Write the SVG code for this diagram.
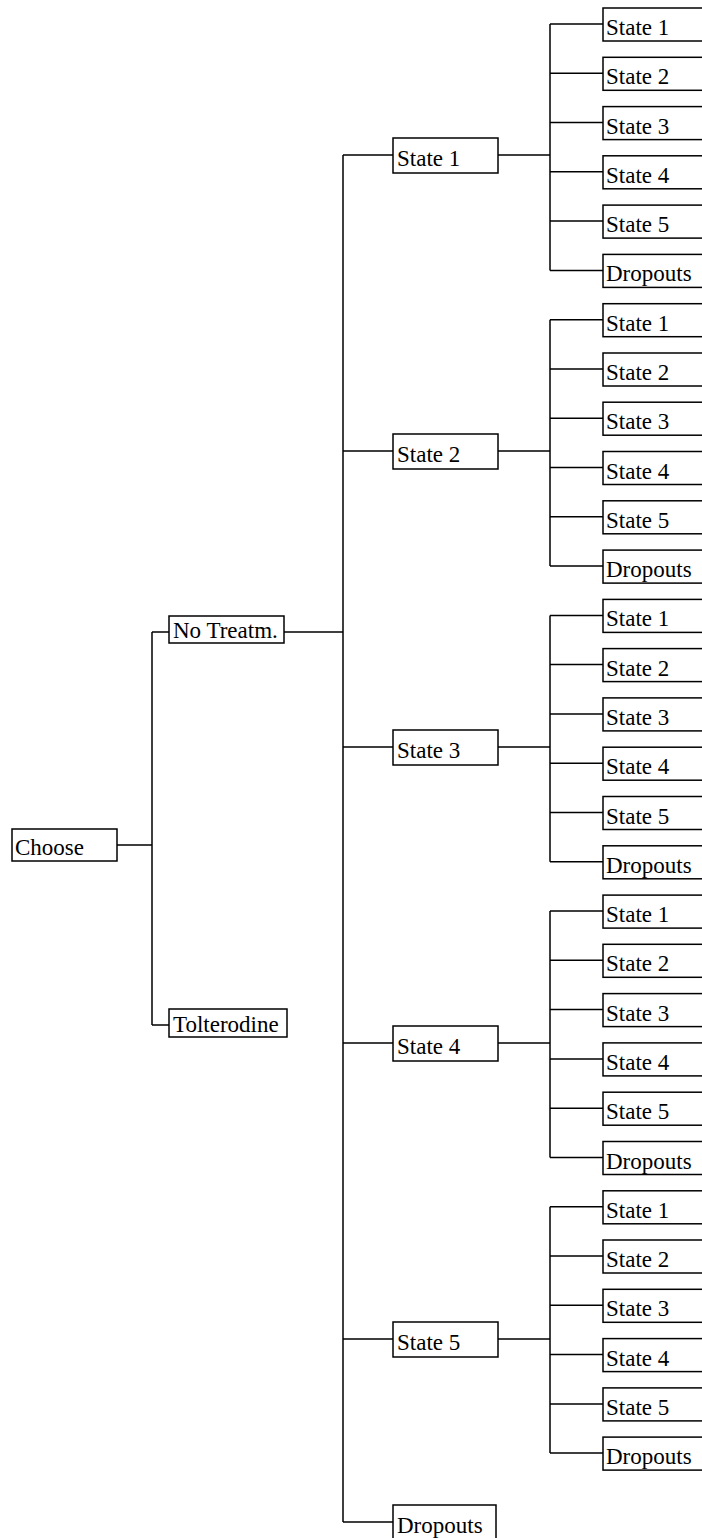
<svg xmlns="http://www.w3.org/2000/svg" width="702" height="1538" viewBox="0 0 702 1538">
<style>
.b{fill:#fff;stroke:#000;stroke-width:1.5}
.t{font-family:"Liberation Serif","Times New Roman",serif;font-size:23px;fill:#000}
.c{stroke:#000;stroke-width:1.5;fill:none}
</style>
<rect width="702" height="1538" fill="#fff"/>
<g id="connectors" class="c">
<path d="M117 845H152M152 632V1025M152 632H169M152 1025H169"/>
<path d="M284 632H343M343 155V1522"/>
<path d="M343 155H393M343 451H393M343 747H393M343 1043H393M343 1339H393M343 1522H393"/>
<path d="M498 155H550M498 451H550M498 747H550M498 1043H550M498 1339H550"/>
<path d="M550 24V270.4M550 319.7V566.1M550 615.4V861.8M550 911.1V1157.5M550 1206.8V1453.1"/>
<path d="M550 24H603M550 73.3H603M550 122.6H603M550 171.8H603M550 221.1H603M550 270.4H603"/>
<path d="M550 319.7H603M550 369H603M550 418.2H603M550 467.5H603M550 516.8H603M550 566.1H603"/>
<path d="M550 615.4H603M550 664.6H603M550 713.9H603M550 763.2H603M550 812.5H603M550 861.8H603"/>
<path d="M550 911.1H603M550 960.3H603M550 1009.6H603M550 1058.9H603M550 1108.2H603M550 1157.5H603"/>
<path d="M550 1206.8H603M550 1256H603M550 1305.3H603M550 1354.6H603M550 1403.9H603M550 1453.1H603"/>
</g>
<g id="choose"><rect class="b" x="12" y="829" width="105" height="32"/><text class="t" x="15" y="855">Choose</text></g>
<g id="notreat"><rect class="b" x="169" y="616" width="115" height="27"/><text class="t" x="173" y="638">No Treatm.</text></g>
<g id="tolterodine"><rect class="b" x="169" y="1009" width="118" height="28"/><text class="t" x="173" y="1032">Tolterodine</text></g>
<g id="s1"><rect class="b" x="393" y="138" width="105" height="35"/><text class="t" x="397" y="166">State 1</text></g>
<g id="s2"><rect class="b" x="393" y="434" width="105" height="35"/><text class="t" x="397" y="462">State 2</text></g>
<g id="s3"><rect class="b" x="393" y="730" width="105" height="35"/><text class="t" x="397" y="758">State 3</text></g>
<g id="s4"><rect class="b" x="393" y="1026" width="105" height="35"/><text class="t" x="397" y="1054">State 4</text></g>
<g id="s5"><rect class="b" x="393" y="1322" width="105" height="35"/><text class="t" x="397" y="1350">State 5</text></g>
<g id="sd"><rect class="b" x="393" y="1505" width="103" height="40"/><text class="t" x="397" y="1533">Dropouts</text></g>
<g id="l1-1"><rect class="b" x="603" y="8" width="110" height="33"/><text class="t" x="606" y="35">State 1</text></g>
<g id="l1-2"><rect class="b" x="603" y="57.3" width="110" height="33"/><text class="t" x="606" y="84.3">State 2</text></g>
<g id="l1-3"><rect class="b" x="603" y="106.6" width="110" height="33"/><text class="t" x="606" y="133.6">State 3</text></g>
<g id="l1-4"><rect class="b" x="603" y="155.8" width="110" height="33"/><text class="t" x="606" y="182.8">State 4</text></g>
<g id="l1-5"><rect class="b" x="603" y="205.1" width="110" height="33"/><text class="t" x="606" y="232.1">State 5</text></g>
<g id="l1-d"><rect class="b" x="603" y="254.4" width="110" height="33"/><text class="t" x="606" y="281.4">Dropouts</text></g>
<g id="l2-1"><rect class="b" x="603" y="303.7" width="110" height="33"/><text class="t" x="606" y="330.7">State 1</text></g>
<g id="l2-2"><rect class="b" x="603" y="353" width="110" height="33"/><text class="t" x="606" y="380">State 2</text></g>
<g id="l2-3"><rect class="b" x="603" y="402.2" width="110" height="33"/><text class="t" x="606" y="429.2">State 3</text></g>
<g id="l2-4"><rect class="b" x="603" y="451.5" width="110" height="33"/><text class="t" x="606" y="478.5">State 4</text></g>
<g id="l2-5"><rect class="b" x="603" y="500.8" width="110" height="33"/><text class="t" x="606" y="527.8">State 5</text></g>
<g id="l2-d"><rect class="b" x="603" y="550.1" width="110" height="33"/><text class="t" x="606" y="577.1">Dropouts</text></g>
<g id="l3-1"><rect class="b" x="603" y="599.4" width="110" height="33"/><text class="t" x="606" y="626.4">State 1</text></g>
<g id="l3-2"><rect class="b" x="603" y="648.6" width="110" height="33"/><text class="t" x="606" y="675.6">State 2</text></g>
<g id="l3-3"><rect class="b" x="603" y="697.9" width="110" height="33"/><text class="t" x="606" y="724.9">State 3</text></g>
<g id="l3-4"><rect class="b" x="603" y="747.2" width="110" height="33"/><text class="t" x="606" y="774.2">State 4</text></g>
<g id="l3-5"><rect class="b" x="603" y="796.5" width="110" height="33"/><text class="t" x="606" y="823.5">State 5</text></g>
<g id="l3-d"><rect class="b" x="603" y="845.8" width="110" height="33"/><text class="t" x="606" y="872.8">Dropouts</text></g>
<g id="l4-1"><rect class="b" x="603" y="895.1" width="110" height="33"/><text class="t" x="606" y="922.1">State 1</text></g>
<g id="l4-2"><rect class="b" x="603" y="944.3" width="110" height="33"/><text class="t" x="606" y="971.3">State 2</text></g>
<g id="l4-3"><rect class="b" x="603" y="993.6" width="110" height="33"/><text class="t" x="606" y="1020.6">State 3</text></g>
<g id="l4-4"><rect class="b" x="603" y="1042.9" width="110" height="33"/><text class="t" x="606" y="1069.9">State 4</text></g>
<g id="l4-5"><rect class="b" x="603" y="1092.2" width="110" height="33"/><text class="t" x="606" y="1119.2">State 5</text></g>
<g id="l4-d"><rect class="b" x="603" y="1141.5" width="110" height="33"/><text class="t" x="606" y="1168.5">Dropouts</text></g>
<g id="l5-1"><rect class="b" x="603" y="1190.8" width="110" height="33"/><text class="t" x="606" y="1217.8">State 1</text></g>
<g id="l5-2"><rect class="b" x="603" y="1240" width="110" height="33"/><text class="t" x="606" y="1267">State 2</text></g>
<g id="l5-3"><rect class="b" x="603" y="1289.3" width="110" height="33"/><text class="t" x="606" y="1316.3">State 3</text></g>
<g id="l5-4"><rect class="b" x="603" y="1338.6" width="110" height="33"/><text class="t" x="606" y="1365.6">State 4</text></g>
<g id="l5-5"><rect class="b" x="603" y="1387.9" width="110" height="33"/><text class="t" x="606" y="1414.9">State 5</text></g>
<g id="l5-d"><rect class="b" x="603" y="1437.1" width="110" height="33"/><text class="t" x="606" y="1464.1">Dropouts</text></g>
</svg>
